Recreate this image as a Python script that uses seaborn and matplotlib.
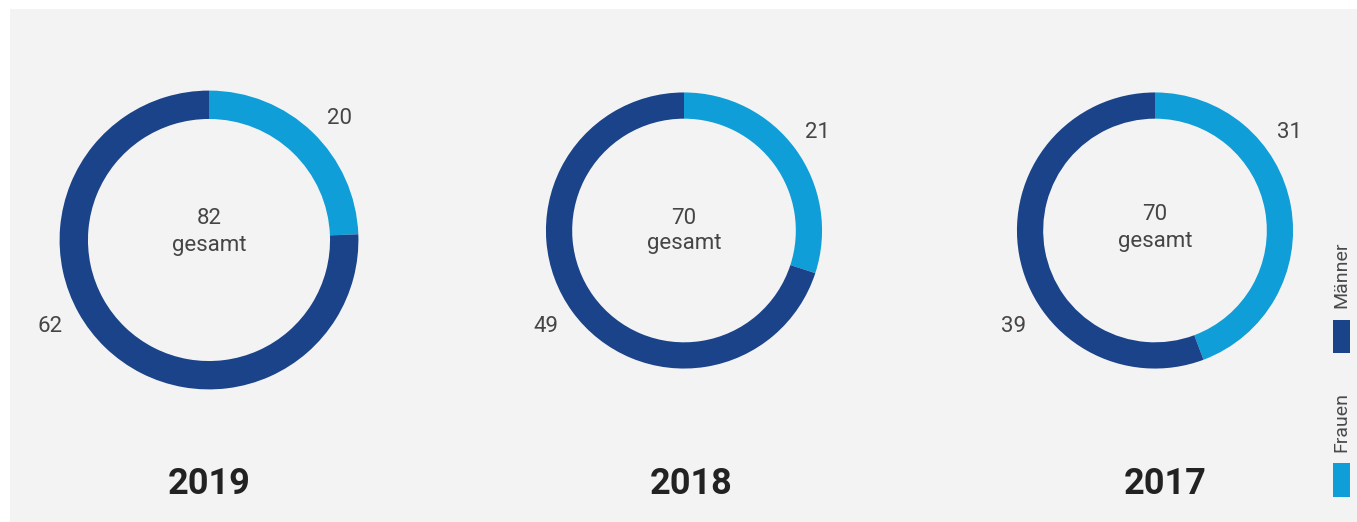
import numpy as np
import pandas as pd
import matplotlib
matplotlib.use("Agg")
import matplotlib.pyplot as plt
import seaborn as sns
from matplotlib.patches import Rectangle

# ---- data ----
years = ["2019", "2018", "2017"]
frauen = [20, 21, 31]
maenner = [62, 49, 39]
totals = [82, 70, 70]
series_labels = ["Frauen", "Männer"]
center_word = "gesamt"

# ---- style ----
sns.set_theme(style="white")
plt.rcParams["font.family"] = ["Roboto", "DejaVu Sans"]
palette = {"Frauen": "#0f9ed8", "Männer": "#1a438a"}
bg = "#f3f3f3"
txt = "#454545"

W, H = 1357, 522
fig = plt.figure(figsize=(W / 100, H / 100), dpi=100, facecolor="white")
fig.add_artist(Rectangle((10 / W, -0.1), 1.2, (H - 9) / H + 0.1, transform=fig.transFigure,
                         facecolor=bg, edgecolor="none", zorder=-10))

# layout (pixel positions in image coords)
centers = [(209, 240), (684, 230.5), (1155, 230.5)]
center_txt_y = [(219, 246), (218, 244), (215, 241)]
lab_f = [(340, 119), (818, 133), (1290, 133)]
lab_m = [(50, 327), (546, 327), (1014, 327)]
year_x = [209, 691, 1165]
year_y = 484
S = 200  # half-size of each axes in px

df = pd.DataFrame({"year": years, "Frauen": frauen, "Männer": maenner, "total": totals})

for i, row in df.iterrows():
    cx, cy = centers[i]
    ax = fig.add_axes([(cx - S) / W, (H - cy - S) / H, 2 * S / W, 2 * S / H])
    ax.set_xlim(-S, S)
    ax.set_ylim(-S, S)
    ax.set_aspect("equal")
    ax.axis("off")
    r = 16.5 * np.sqrt(row["total"])
    vals = [row["Frauen"], row["Männer"]]
    ax.pie(vals, colors=[palette[s] for s in series_labels], radius=r,
           startangle=90, counterclock=False,
           wedgeprops=dict(width=0.19 * r, edgecolor="none", linewidth=0))
    ax.set_xlim(-S, S)
    ax.set_ylim(-S, S)
    ty1, ty2 = center_txt_y[i]
    ax.text(0, cy - ty1, str(row["total"]), ha="center", va="center",
            fontsize=16, fontweight="normal", color=txt)
    ax.text(0, cy - ty2, center_word, ha="center", va="center",
            fontsize=16, fontweight="normal", color=txt)
    fx, fy = lab_f[i]
    mx, my = lab_m[i]
    ax.text(fx - cx, cy - fy, str(row["Frauen"]), ha="center", va="center",
            fontsize=16, fontweight="normal", color=txt)
    ax.text(mx - cx, cy - my, str(row["Männer"]), ha="center", va="center",
            fontsize=16, fontweight="normal", color=txt)
    fig.text(year_x[i] / W, (H - year_y) / H, row["year"], ha="center", va="center",
             fontsize=26, fontweight="bold", family=["Roboto", "DejaVu Sans"],
             color="#222222")

# ---- legend ----
leg = [("Männer", 320, 353, 275), ("Frauen", 463, 497, 422)]
for name, y0, y1, ty in leg:
    fig.add_artist(Rectangle((1333 / W, (H - y1) / H), 17 / W, (y1 - y0) / H,
                             transform=fig.transFigure, facecolor=palette[name],
                             edgecolor="none"))
    fig.text(1341 / W, (H - ty) / H, name, rotation=90, ha="center", va="center",
             fontsize=14, fontweight="normal", color="#4a4a4a")

fig.savefig("out.png", dpi=100, facecolor="white")
